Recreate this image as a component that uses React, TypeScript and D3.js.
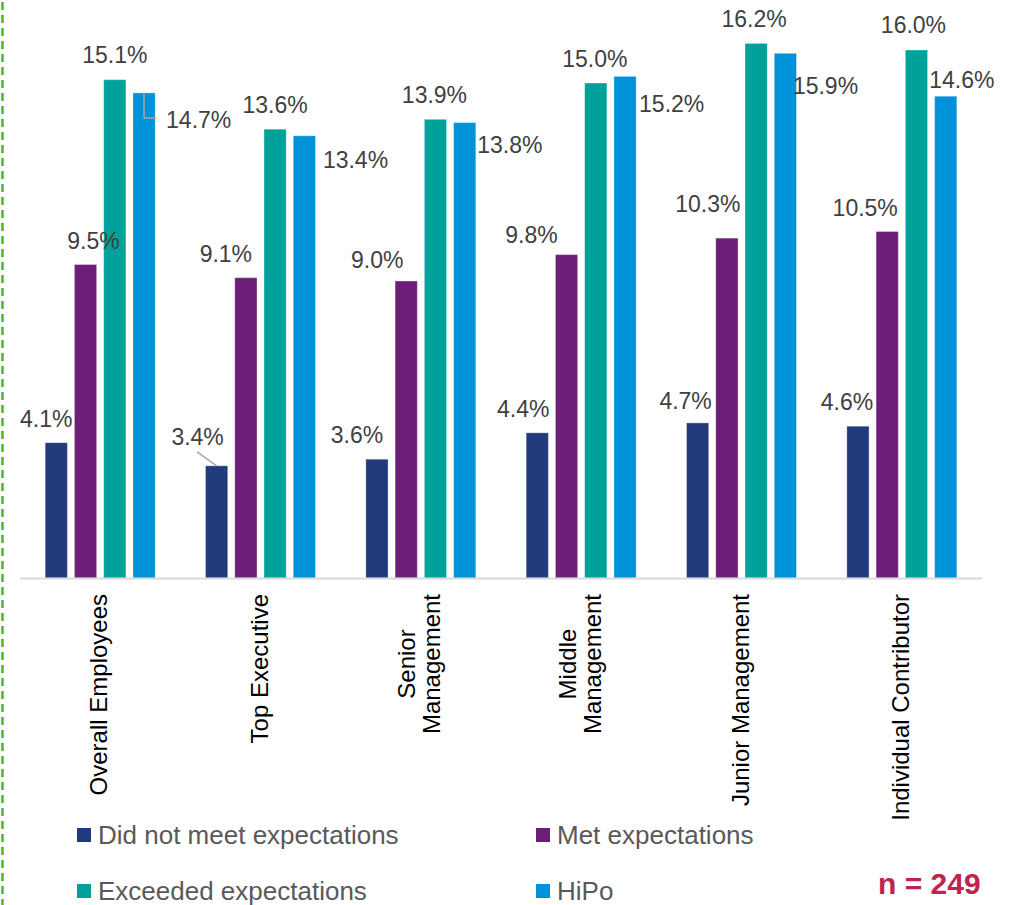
import React from "react";
import * as d3 from "d3";

// ---------- data ----------
const categories = [
  "Overall Employees",
  "Top Executive",
  "Senior Management",
  "Middle Management",
  "Junior Management",
  "Individual Contributor",
];
const categoryLines = [
  ["Overall Employees"],
  ["Top Executive"],
  ["Senior", "Management"],
  ["Middle", "Management"],
  ["Junior Management"],
  ["Individual Contributor"],
];
const seriesNames = [
  "Did not meet expectations",
  "Met expectations",
  "Exceeded expectations",
  "HiPo",
];
const didNotMeet = [4.1, 3.4, 3.6, 4.4, 4.7, 4.6];
const metExp = [9.5, 9.1, 9.0, 9.8, 10.3, 10.5];
const exceededExp = [15.1, 13.6, 13.9, 15.0, 16.2, 16.0];
const hipo = [14.7, 13.4, 13.8, 15.2, 15.9, 14.6];
const seriesValues = [didNotMeet, metExp, exceededExp, hipo];
const sampleNote = "n = 249";

// ---------- styling / layout ----------
const colors = ["#213A7B", "#6C1F77", "#00A19A", "#0092D9"];
const FONT = "'Liberation Sans', Arial, Helvetica, sans-serif";

// label nudges: [dx from bar centre, dy of baseline from bar top, anchor]
type Nudge = { dx: number; dy: number; anchor?: "start" | "middle" | "end" };
const labelLayout: Nudge[][] = [
  // did not meet
  [
    { dx: -10, dy: -16 },
    { dx: -19, dy: -21 },
    { dx: -20, dy: -16 },
    { dx: -14, dy: -16 },
    { dx: -12, dy: -14 },
    { dx: -11, dy: -16 },
  ],
  // met
  [
    { dx: 8, dy: -16 },
    { dx: -20, dy: -16 },
    { dx: -29, dy: -13 },
    { dx: -35, dy: -12 },
    { dx: -19, dy: -26 },
    { dx: -22, dy: -16 },
  ],
  // exceeded
  [
    { dx: 0, dy: -17 },
    { dx: 0, dy: -16 },
    { dx: -1, dy: -16 },
    { dx: -1, dy: -16 },
    { dx: -2, dy: -16 },
    { dx: -3, dy: -17 },
  ],
  // hipo
  [
    { dx: 22, dy: 35, anchor: "start" },
    { dx: 18.5, dy: 32, anchor: "start" },
    { dx: 12.5, dy: 30, anchor: "start" },
    { dx: 14, dy: 35.5, anchor: "start" },
    { dx: 7.5, dy: 41, anchor: "start" },
    { dx: -16.5, dy: -8, anchor: "start" },
  ],
];

const W = 1017;
const H = 905;
const baseY = 578;
const plotLeft = 20;
const plotRight = 982;

let measureCtx: CanvasRenderingContext2D | null = null;
function measure(text: string, font: string) {
  if (!measureCtx) {
    const c = document.createElement("canvas");
    measureCtx = c.getContext("2d");
  }
  if (!measureCtx) return text.length * 12;
  measureCtx.font = font;
  return measureCtx.measureText(text).width;
}

export default function App() {
  const x0 = d3
    .scaleBand<string>()
    .domain(categories)
    .range([plotLeft, plotRight])
    .padding(0);
  const groupW = 110;
  const x1 = d3
    .scaleBand<string>()
    .domain(seriesNames)
    .range([0, groupW])
    .paddingInner(0.24)
    .paddingOuter(0);
  const y = d3.scaleLinear().domain([0, 17.5]).range([baseY, 0.5]);
  const fmt = (v: number) => d3.format(".1f")(v) + "%";

  const groupCenter = (c: string) => (x0(c) ?? 0) + x0.bandwidth() / 2;
  const barX = (c: string, s: string) =>
    groupCenter(c) - groupW / 2 + (x1(s) ?? 0);
  const bw = x1.bandwidth();

  const catFont = `24px ${FONT}`;

  return (
    <svg
      width={W}
      height={H}
      viewBox={`0 0 ${W} ${H}`}
      style={{ position: "absolute", left: 0, top: 0, background: "#fff" }}
    >
      <rect x={0} y={0} width={W} height={H} fill="#fff" />
      {/* green dashed border on the left */}
      <line
        x1={2.5}
        x2={2.5}
        y1={2}
        y2={H}
        stroke="#4DB82A"
        strokeWidth={2.5}
        strokeDasharray="8 5"
      />

      {/* bars */}
      {seriesNames.map((s, si) => (
        <g key={s}>
          {categories.map((c, ci) => {
            const v = seriesValues[si][ci];
            return (
              <rect
                key={c}
                x={barX(c, s)}
                y={y(v)}
                width={bw}
                height={baseY - y(v)}
                fill={colors[si]}
                stroke="#ffffff"
                strokeOpacity={0.35}
                strokeWidth={1}
              />
            );
          })}
        </g>
      ))}

      {/* axis line */}
      <line
        x1={plotLeft}
        x2={plotRight}
        y1={baseY + 0.5}
        y2={baseY + 0.5}
        stroke="#D9D9D9"
        strokeWidth={2}
      />

      {/* leader lines */}
      {(() => {
        const c0 = categories[0];
        const s3 = seriesNames[3];
        const cx = barX(c0, s3) + bw / 2;
        const top = y(hipo[0]);
        const c1 = categories[1];
        const s0 = seriesNames[0];
        const bx = barX(c1, s0) + bw / 2;
        const btop = y(didNotMeet[1]);
        return (
          <g stroke="#A6A6A6" strokeWidth={1.5} fill="none">
            <polyline
              points={`${cx},${top + 1} ${cx},${top + 25} ${cx + 12},${top + 25}`}
            />
            <line x1={bx - 19.5} y1={btop - 14} x2={bx} y2={btop} />
          </g>
        );
      })()}

      {/* data labels */}
      {seriesNames.map((s, si) => (
        <g key={s} fontFamily={FONT} fontSize={23} fill="#404040">
          {categories.map((c, ci) => {
            const v = seriesValues[si][ci];
            const n = labelLayout[si][ci];
            return (
              <text
                key={c}
                x={barX(c, s) + bw / 2 + n.dx}
                y={y(v) + n.dy}
                textAnchor={n.anchor ?? "middle"}
              >
                {fmt(v)}
              </text>
            );
          })}
        </g>
      ))}

      {/* category labels */}
      {categories.map((c, ci) => {
        const lines = categoryLines[ci];
        const longest = Math.max(...lines.map((l) => measure(l, catFont)));
        const cx = groupCenter(c);
        return (
          <text
            key={c}
            transform={`translate(${cx},594) rotate(-90)`}
            fontFamily={FONT}
            fontSize={24}
            fill="#000"
            textAnchor="middle"
          >
            {lines.map((l, li) => (
              <tspan
                key={li}
                x={-longest / 2}
                y={7 + (li - (lines.length - 1) / 2) * 25}
              >
                {l}
              </tspan>
            ))}
          </text>
        );
      })}

      {/* legend */}
      {seriesNames.map((s, si) => {
        const col = si % 2;
        const row = Math.floor(si / 2);
        const lx = col === 0 ? 77 : 536;
        const ly = row === 0 ? 828 : 884;
        return (
          <g key={s}>
            <rect x={lx} y={ly} width={14} height={14} fill={colors[si]} />
            <text
              x={lx + 21}
              y={ly + 15.5}
              fontFamily={FONT}
              fontSize={26}
              fill="#595959"
            >
              {s}
            </text>
          </g>
        );
      })}

      {/* sample size */}
      <text
        x={878}
        y={894}
        fontFamily={FONT}
        fontSize={30}
        fontWeight="bold"
        fill="#C1234E"
      >
        {sampleNote}
      </text>
    </svg>
  );
}
